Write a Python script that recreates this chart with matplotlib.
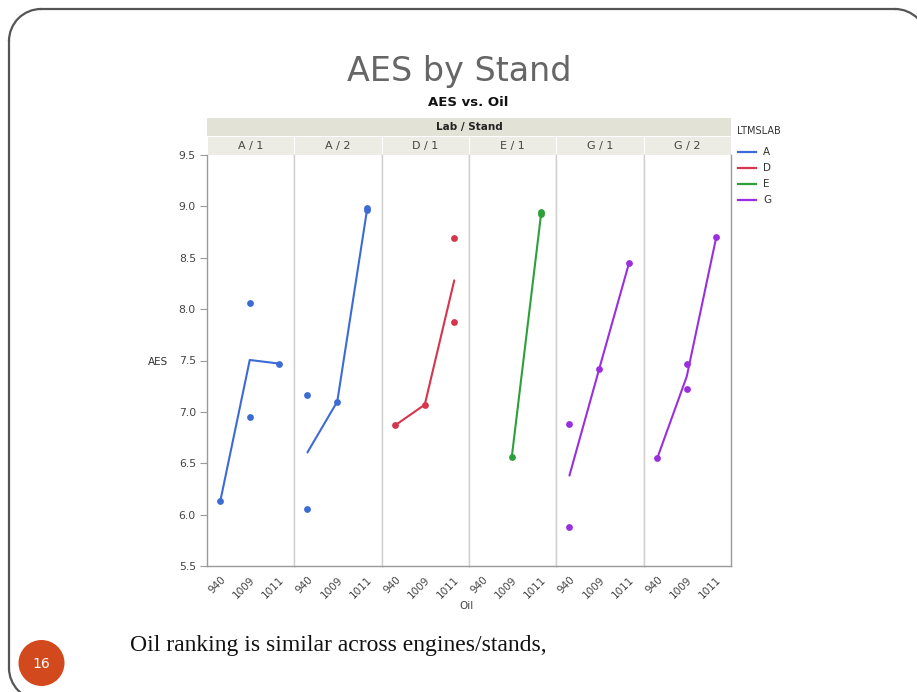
import matplotlib
matplotlib.use("Agg")
import matplotlib.pyplot as plt
from matplotlib.patches import Arc, Circle, Rectangle
from matplotlib.lines import Line2D

W, H = 917, 692

# Oil categories on each panel's x axis
oils = ["940", "1009", "1011"]

# Facets: Lab / Stand
panel_names = ["A / 1", "A / 2", "D / 1", "E / 1", "G / 1", "G / 2"]
panel_labs = ["A", "A", "D", "E", "G", "G"]

# Individual AES results per facet (oil, AES)
a1_oil = ["940", "1009", "1009", "1011"]
a1_aes = [6.13, 8.06, 6.95, 7.47]
a2_oil = ["940", "940", "1009", "1011", "1011"]
a2_aes = [7.16, 6.05, 7.10, 8.96, 8.98]
d1_oil = ["940", "1009", "1011", "1011"]
d1_aes = [6.87, 7.07, 8.69, 7.87]
e1_oil = ["1009", "1011", "1011"]
e1_aes = [6.56, 8.93, 8.95]
g1_oil = ["940", "940", "1009", "1011"]
g1_aes = [6.88, 5.88, 7.42, 8.45]
g2_oil = ["940", "1009", "1009", "1011"]
g2_aes = [6.55, 7.47, 7.22, 8.70]

panel_oil = [a1_oil, a2_oil, d1_oil, e1_oil, g1_oil, g2_oil]
panel_aes = [a1_aes, a2_aes, d1_aes, e1_aes, g1_aes, g2_aes]

lab_colors = {"A": "#3d6bd6", "D": "#d6354c", "E": "#2ea03a", "G": "#9a2fe0"}
legend_labs = ["A", "D", "E", "G"]

y_ticks = [5.5, 6.0, 6.5, 7.0, 7.5, 8.0, 8.5, 9.0, 9.5]

fig = plt.figure(figsize=(W / 100, H / 100), dpi=100)
fig.patch.set_facecolor("white")


def box(x, y, w, h):
    """Pixel box (top-left origin) to figure fractions."""
    return [x / W, 1 - (y + h) / H, w / W, h / H]


# Slide frame (pixel coordinates, y down)
bg = fig.add_axes([0, 0, 1, 1])
bg.set_xlim(0, W)
bg.set_ylim(H, 0)
bg.axis("off")
frame_kw = dict(color="#555555", lw=1.6)
r = 32
bg.add_line(Line2D([9 + r, 895], [9, 9], **frame_kw))
bg.add_line(Line2D([9, 9], [9 + r, 668], **frame_kw))
bg.add_patch(Arc((9 + r, 9 + r), 2 * r, 2 * r, theta1=180, theta2=270, **frame_kw))
bg.add_patch(Arc((895, 9 + r), 2 * r, 2 * r, theta1=270, theta2=360, **frame_kw))
bg.add_patch(Arc((9 + r, 668), 2 * r, 2 * r, theta1=90, theta2=180, **frame_kw))

bg.text(459, 71, "AES by Stand", ha="center", va="center", fontsize=24,
        color="#666666", family="DejaVu Sans")
bg.text(468, 103, "AES vs. Oil", ha="center", va="center", fontsize=9.5,
        fontweight="bold", color="#111111")

# Header bands
x_edges = [207, 294, 382, 469, 556, 644, 731]
bg.add_patch(Rectangle((207, 118), 524, 18, fc="#e2e2d6", ec="none"))
bg.text(469, 127, "Lab / Stand", ha="center", va="center", fontsize=7.5,
        fontweight="bold", color="#222222")
for i, name in enumerate(panel_names):
    bg.add_patch(Rectangle((x_edges[i] + 0.5, 137), x_edges[i + 1] - x_edges[i] - 1, 18,
                           fc="#ececE4", ec="none"))
    bg.text((x_edges[i] + x_edges[i + 1]) / 2, 146, name, ha="center", va="center",
            fontsize=8, color="#444444")

# Panels
top, bottom = 155, 566
for i in range(6):
    ax = fig.add_axes(box(x_edges[i], top, x_edges[i + 1] - x_edges[i], bottom - top))
    ax.set_xlim(-0.45, 2.5)
    ax.set_ylim(5.5, 9.5)
    col = lab_colors[panel_labs[i]]
    xs = [oils.index(o) for o in panel_oil[i]]
    ys = panel_aes[i]
    # mean per oil, connected
    mx, my = [], []
    for k, o in enumerate(oils):
        vals = [v for oo, v in zip(panel_oil[i], ys) if oo == o]
        if vals:
            mx.append(k)
            my.append(sum(vals) / len(vals))
    ax.plot(mx, my, color=col, lw=1.5, solid_capstyle="round")
    ax.scatter(xs, ys, s=24, color=col, zorder=3, linewidths=0)
    for s in ax.spines.values():
        s.set_color("#cfcfcf")
        s.set_linewidth(1.0)
    ax.spines["bottom"].set_color("#9a9a9a")
    if i == 0:
        ax.spines["left"].set_color("#9a9a9a")
    if i == 5:
        ax.spines["right"].set_color("#9a9a9a")
    ax.spines["top"].set_visible(False)
    ax.set_xticks(range(3))
    ax.set_xticklabels(oils, rotation=45, ha="right", rotation_mode="anchor",
                       fontsize=7.5, color="#444444")
    ax.tick_params(axis="x", length=0, pad=6)
    if i == 0:
        ax.set_yticks(y_ticks)
        ax.set_yticklabels([f"{t:.1f}" for t in y_ticks], fontsize=7.8, color="#444444")
        ax.tick_params(axis="y", length=5, color="#9a9a9a", pad=3)
    else:
        ax.set_yticks([])

bg.text(158, 362, "AES", ha="center", va="center", fontsize=7.5, color="#333333")
bg.text(467, 606, "Oil", ha="center", va="center", fontsize=7.5, color="#444444")

# Legend
bg.text(737, 131, "LTMSLAB", ha="left", va="center", fontsize=7, color="#333333")
for k, lab in enumerate(legend_labs):
    yy = 152 + 16 * k
    bg.add_line(Line2D([738, 756], [yy, yy], color=lab_colors[lab], lw=1.6))
    bg.text(763, yy, lab, ha="left", va="center", fontsize=7.5, color="#333333")

# Slide footer
bg.add_patch(Circle((41.5, 663), 23, fc="#d2491d", ec="none"))
bg.text(41.5, 664, "16", ha="center", va="center", fontsize=10, color="white")
bg.text(130, 645, "Oil ranking is similar across engines/stands,", ha="left", va="center",
        fontsize=17, color="#111111", family="Liberation Serif")

fig.savefig("out.png", dpi=100, facecolor="white")
